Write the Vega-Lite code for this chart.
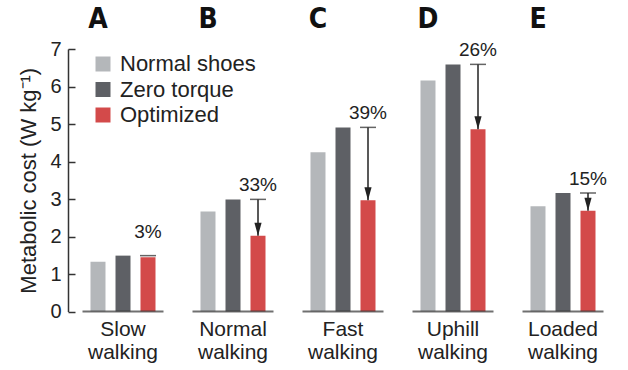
{
  "$schema": "https://vega.github.io/schema/vega-lite/v6.json",
  "width": 550,
  "height": 262.5,
  "autosize": {"type": "none"},
  "padding": {"left": 68, "top": 49, "right": 10, "bottom": 58.5},
  "background": "white",
  "config": {
    "view": {"stroke": null},
    "font": "Liberation Sans",
    "axis": {"labelColor": "#222", "titleColor": "#222", "labelFont": "Liberation Sans", "titleFont": "Liberation Sans"},
    "axisY": {
      "titleFontSize": 22, "titleFontWeight": "normal", "titlePadding": 9,
      "grid": false, "labelOverlap": false,
      "domainColor": "#333", "domainWidth": 1.5, "tickColor": "#333", "tickWidth": 1.5,
      "tickSize": -7, "labelPadding": 14, "labelFontSize": 20
    }
  },
  "datasets": {
    "bars": [
      {"condition": "Slow walking", "series": "Normal shoes", "value": 1.33},
      {"condition": "Slow walking", "series": "Zero torque", "value": 1.49},
      {"condition": "Slow walking", "series": "Optimized", "value": 1.45},
      {"condition": "Normal walking", "series": "Normal shoes", "value": 2.67},
      {"condition": "Normal walking", "series": "Zero torque", "value": 2.99},
      {"condition": "Normal walking", "series": "Optimized", "value": 2.02},
      {"condition": "Fast walking", "series": "Normal shoes", "value": 4.25},
      {"condition": "Fast walking", "series": "Zero torque", "value": 4.91},
      {"condition": "Fast walking", "series": "Optimized", "value": 2.97},
      {"condition": "Uphill walking", "series": "Normal shoes", "value": 6.16},
      {"condition": "Uphill walking", "series": "Zero torque", "value": 6.59},
      {"condition": "Uphill walking", "series": "Optimized", "value": 4.86},
      {"condition": "Loaded walking", "series": "Normal shoes", "value": 2.81},
      {"condition": "Loaded walking", "series": "Zero torque", "value": 3.16},
      {"condition": "Loaded walking", "series": "Optimized", "value": 2.69}
    ],
    "notes": [
      {"condition": "Slow walking", "zero": 1.49, "optimized": 1.45, "label": "3%"},
      {"condition": "Normal walking", "zero": 2.99, "optimized": 2.02, "label": "33%"},
      {"condition": "Fast walking", "zero": 4.91, "optimized": 2.97, "label": "39%"},
      {"condition": "Uphill walking", "zero": 6.59, "optimized": 4.86, "label": "26%"},
      {"condition": "Loaded walking", "zero": 3.16, "optimized": 2.69, "label": "15%"}
    ]
  },
  "resolve": {"axis": {"x": "independent"}},
  "layer": [
    {
      "data": {"name": "bars"},
      "mark": {"type": "bar"},
      "encoding": {
        "x": {
          "field": "condition", "type": "nominal", "sort": null,
          "scale": {"paddingInner": 0.409, "paddingOuter": 0.2045},
          "axis": {
            "orient": "bottom", "title": null, "domain": false, "ticks": false,
            "labelAngle": 0, "labelFontSize": 21, "labelLineHeight": 22.5, "labelPadding": 7,
            "labelExpr": "split(datum.label, ' ')"
          }
        },
        "xOffset": {
          "field": "series", "type": "nominal",
          "sort": ["Normal shoes", "Zero torque", "Optimized"],
          "scale": {"paddingInner": 0.4, "paddingOuter": 0}
        },
        "y": {
          "field": "value", "type": "quantitative",
          "scale": {"domain": [0, 7], "nice": false, "zero": true},
          "axis": {"title": "Metabolic cost (W kg⁻¹)", "values": [0, 1, 2, 3, 4, 5, 6, 7]}
        },
        "color": {
          "field": "series", "type": "nominal",
          "sort": ["Normal shoes", "Zero torque", "Optimized"],
          "scale": {"domain": ["Normal shoes", "Zero torque", "Optimized"], "range": ["#b4b7ba", "#5e6065", "#d34a4a"]},
          "legend": {
            "title": null, "orient": "none", "legendX": 24, "legendY": 4,
            "symbolType": "square", "symbolSize": 225, "symbolStrokeWidth": 0, "symbolOpacity": 1,
            "labelFontSize": 22, "labelColor": "#222", "labelOffset": 6, "rowPadding": 3.5, "labelFont": "Liberation Sans"
          }
        }
      }
    },
    {
      "data": {"name": "notes"},
      "mark": {"type": "tick", "orient": "horizontal", "size": 81, "thickness": 2, "color": "#333"},
      "encoding": {
        "x": {
          "field": "condition", "type": "nominal", "sort": null,
          "axis": {
            "orient": "top", "title": null, "domain": false, "ticks": false, "labelAngle": 0,
            "labelFont": "DejaVu Sans Condensed", "labelFontWeight": "bold", "labelFontSize": 28, "labelColor": "#111",
            "labelBaseline": "alphabetic", "labelPadding": 22, "labelOffset": -25,
            "labelExpr": "['A','B','C','D','E'][indexof(['Slow walking','Normal walking','Fast walking','Uphill walking','Loaded walking'], datum.label)]"
          }
        },
        "y": {"datum": 0, "type": "quantitative", "axis": {"title": "Metabolic cost (W kg⁻¹)", "values": [0, 1, 2, 3, 4, 5, 6, 7]}}
      }
    },
    {
      "data": {"name": "notes"},
      "transform": [{"filter": "datum.zero - datum.optimized > 0.2"}],
      "mark": {"type": "rule", "color": "#222", "strokeWidth": 1.5},
      "encoding": {
        "x": {"field": "condition", "type": "nominal", "sort": null, "axis": null},
        "xOffset": {"datum": "Optimized"},
        "y": {"field": "zero", "type": "quantitative", "axis": {"title": "Metabolic cost (W kg⁻¹)", "values": [0, 1, 2, 3, 4, 5, 6, 7]}},
        "y2": {"field": "optimized"}
      }
    },
    {
      "data": {"name": "notes"},
      "mark": {"type": "tick", "orient": "horizontal", "size": 16, "thickness": 1.5, "color": "#222"},
      "encoding": {
        "x": {"field": "condition", "type": "nominal", "sort": null, "axis": null},
        "xOffset": {"datum": "Optimized"},
        "y": {"field": "zero", "type": "quantitative", "axis": {"title": "Metabolic cost (W kg⁻¹)", "values": [0, 1, 2, 3, 4, 5, 6, 7]}}
      }
    },
    {
      "data": {"name": "notes"},
      "transform": [{"filter": "datum.zero - datum.optimized > 0.2"}],
      "mark": {"type": "point", "shape": "M-0.55,-2L0.55,-2L0,0Z", "size": 169, "filled": true, "color": "#222", "opacity": 1, "strokeWidth": 0},
      "encoding": {
        "x": {"field": "condition", "type": "nominal", "sort": null, "axis": null},
        "xOffset": {"datum": "Optimized"},
        "y": {"field": "optimized", "type": "quantitative", "axis": {"title": "Metabolic cost (W kg⁻¹)", "values": [0, 1, 2, 3, 4, 5, 6, 7]}}
      }
    },
    {
      "data": {"name": "notes"},
      "transform": [{"filter": "datum.zero - datum.optimized > 0.2"}],
      "mark": {"type": "text", "fontSize": 19, "color": "#222", "baseline": "alphabetic", "dy": -8},
      "encoding": {
        "x": {"field": "condition", "type": "nominal", "sort": null, "axis": null},
        "xOffset": {"datum": "Optimized"},
        "y": {"field": "zero", "type": "quantitative", "axis": {"title": "Metabolic cost (W kg⁻¹)", "values": [0, 1, 2, 3, 4, 5, 6, 7]}},
        "text": {"field": "label"}
      }
    },
    {
      "data": {"name": "notes"},
      "transform": [{"filter": "datum.zero - datum.optimized <= 0.2"}],
      "mark": {"type": "text", "fontSize": 19, "color": "#222", "baseline": "alphabetic", "dy": -18},
      "encoding": {
        "x": {"field": "condition", "type": "nominal", "sort": null, "axis": null},
        "xOffset": {"datum": "Optimized"},
        "y": {"field": "zero", "type": "quantitative", "axis": {"title": "Metabolic cost (W kg⁻¹)", "values": [0, 1, 2, 3, 4, 5, 6, 7]}},
        "text": {"field": "label"}
      }
    }
  ]
}
